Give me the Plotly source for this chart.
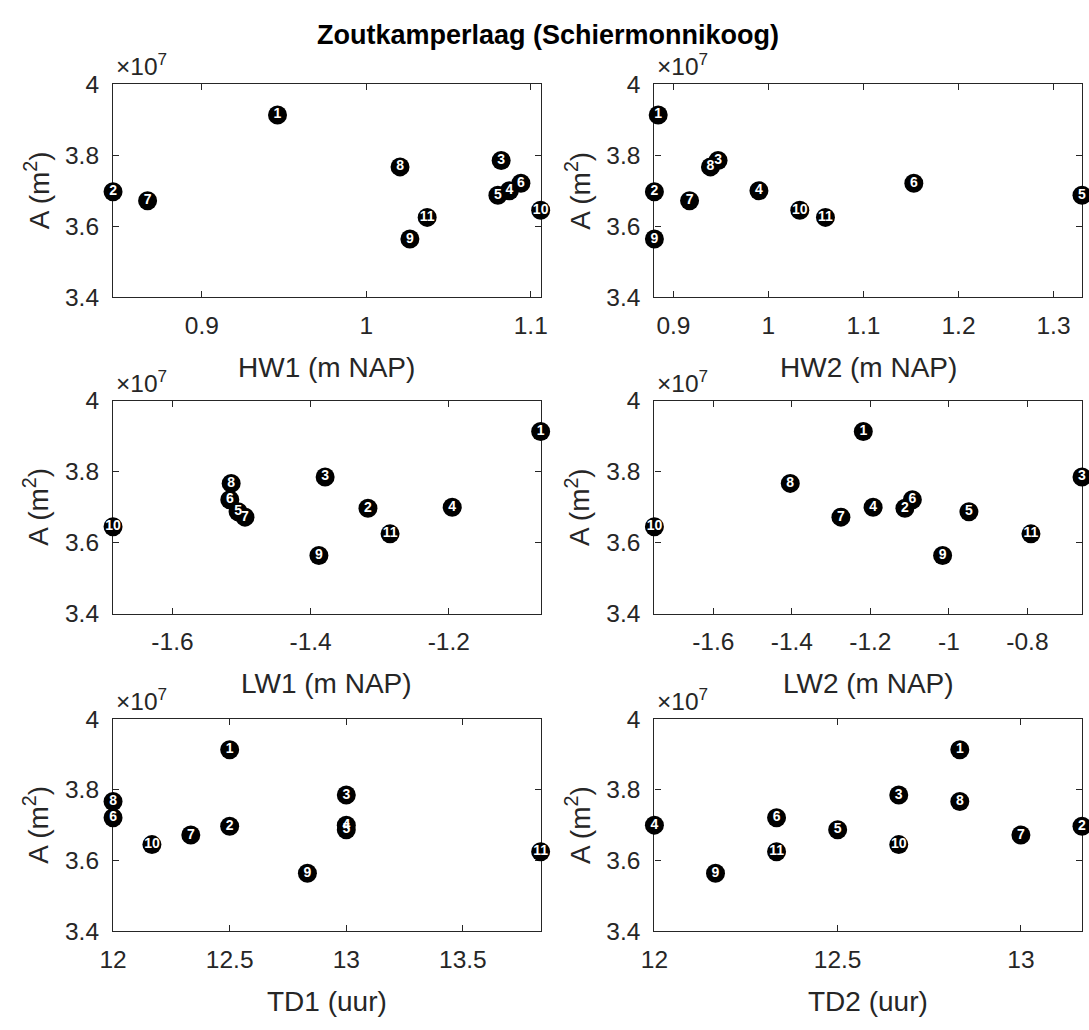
import plotly.graph_objects as go

W, H = 1089, 1030
AX = "#262626"
FONT = "Liberation Sans"

# Point numbers and the tidal-basin area A (m^2) for each observation
point_ids = [str(i) for i in range(1, 12)]
area_m2 = [3.913e7, 3.697e7, 3.785e7, 3.700e7, 3.687e7, 3.721e7,
           3.672e7, 3.767e7, 3.564e7, 3.645e7, 3.625e7]

# Tidal characteristics per observation
hw1 = [0.946, 0.846, 1.082, 1.087, 1.080, 1.094, 0.867, 1.0205, 1.0265, 1.106, 1.037]
hw2 = [0.884, 0.880, 0.947, 0.990, 1.330, 1.153, 0.917, 0.939, 0.880, 1.033, 1.060]
lw1 = [-1.067, -1.317, -1.379, -1.195, -1.505, -1.517, -1.495, -1.515, -1.388, -1.686, -1.285]
lw2 = [-1.218, -1.112, -0.661, -1.193, -0.949, -1.093, -1.275, -1.404, -1.016, -1.750, -0.791]
td1 = [12.5, 12.5, 13.0, 13.0, 13.0, 12.0, 12.3333, 12.0, 12.8333, 12.1667, 13.8333]
td2 = [12.8333, 13.1667, 12.6667, 12.0, 12.5, 12.3333, 13.0, 12.8333, 12.1667, 12.6667, 12.3333]

# Tick values / labels
y_ticks = [3.4e7, 3.6e7, 3.8e7, 4.0e7]
y_ticktext = ["3.4", "3.6", "3.8", "4"]
y_range = [3.4e7, 4.0e7]

panels = [
    ("HW1 (m NAP)", hw1, [0.9, 1.0, 1.1], ["0.9", "1", "1.1"]),
    ("HW2 (m NAP)", hw2, [0.9, 1.0, 1.1, 1.2, 1.3], ["0.9", "1", "1.1", "1.2", "1.3"]),
    ("LW1 (m NAP)", lw1, [-1.6, -1.4, -1.2], ["-1.6", "-1.4", "-1.2"]),
    ("LW2 (m NAP)", lw2, [-1.6, -1.4, -1.2, -1.0, -0.8], ["-1.6", "-1.4", "-1.2", "-1", "-0.8"]),
    ("TD1 (uur)", td1, [12.0, 12.5, 13.0, 13.5], ["12", "12.5", "13", "13.5"]),
    ("TD2 (uur)", td2, [12.0, 12.5, 13.0], ["12", "12.5", "13"]),
]

# Layout grid in pixels
col_px = [(101, 537), (653, 1089)]
row_px = [(73, 292), (398, 617), (725, 943)]


def px_x(p):
    return p / W


def px_y(p):
    return 1 - p / H


fig = go.Figure()
annotations = []

for i, (label, xs, xt, xtt) in enumerate(panels):
    r, c = divmod(i, 2)
    n = "" if i == 0 else str(i + 1)
    x0, x1 = col_px[c]
    y0, y1 = row_px[r]

    fig.add_trace(go.Scatter(
        x=xs, y=area_m2, text=point_ids,
        mode="markers+text",
        textposition="middle center",
        marker=dict(size=19, color="black", line=dict(width=0)),
        textfont=dict(color="white", size=14, family=FONT, weight="bold"),
        cliponaxis=False, showlegend=False, hoverinfo="x+y+text",
        xaxis="x" + n, yaxis="y" + n,
    ))

    common = dict(
        showline=True, linecolor=AX, linewidth=1.2, mirror="ticks",
        ticks="inside", ticklen=6, tickwidth=1.2, tickcolor=AX,
        showgrid=False, zeroline=False, layer="below traces",
        tickfont=dict(family=FONT, size=24.5, color=AX),
    )
    fig.layout["xaxis" + n] = dict(
        common, domain=[px_x(x0), px_x(x1)], anchor="y" + n,
        range=[min(xs), max(xs)], tickvals=xt, ticktext=xtt,
        ticklabelstandoff=6,
    )
    fig.layout["yaxis" + n] = dict(
        common, domain=[px_y(y1), px_y(y0)], anchor="x" + n,
        range=y_range, tickvals=y_ticks, ticktext=y_ticktext,
        ticklabelstandoff=8,
    )

    # axis label below the panel
    annotations.append(dict(
        text=label, xref="paper", yref="paper",
        x=px_x((x0 + x1) / 2), y=px_y(y1 + 72),
        xanchor="center", yanchor="middle", showarrow=False,
        font=dict(family=FONT, size=28, color=AX),
    ))
    # y-axis label
    annotations.append(dict(
        text="A (m<sup>2</sup>)", xref="paper", yref="paper",
        x=px_x(x0 - 78), y=px_y((y0 + y1) / 2), textangle=-90,
        xanchor="center", yanchor="middle", showarrow=False,
        font=dict(family=FONT, size=28, color=AX),
    ))
    # exponent marker of the y axis
    annotations.append(dict(
        text="\u00d710<sup>7</sup>", xref="paper", yref="paper",
        x=px_x(x0 + 1), y=px_y(y0 - 2),
        xanchor="left", yanchor="bottom", showarrow=False,
        font=dict(family=FONT, size=24.5, color=AX),
    ))

annotations.append(dict(
    text="<b>Zoutkamperlaag (Schiermonnikoog)</b>", xref="paper", yref="paper",
    x=0.5, y=px_y(23), xanchor="center", yanchor="middle", showarrow=False,
    font=dict(family=FONT, size=27, color="black"),
))

fig.update_layout(
    width=W, height=H, margin=dict(l=0, r=0, t=0, b=0),
    paper_bgcolor="white", plot_bgcolor="white",
    annotations=annotations,
)

fig.write_html("out.html")
